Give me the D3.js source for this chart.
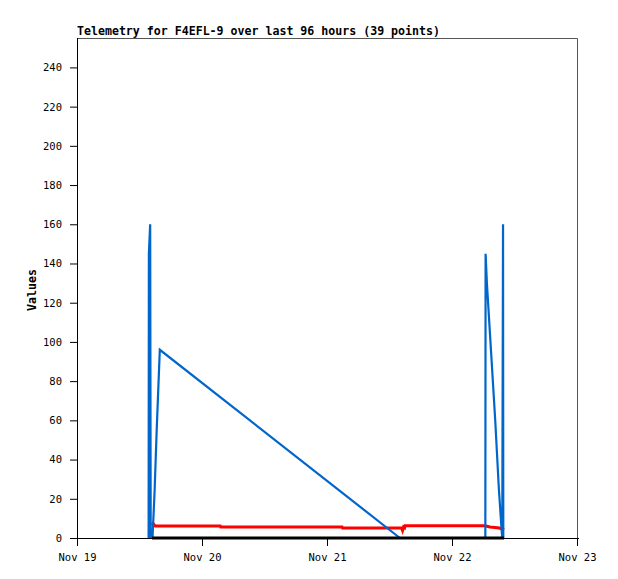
<!DOCTYPE html>
<html>
<head>
<meta charset="utf-8">
<script src="https://cdn.jsdelivr.net/npm/d3@7"></script>
<style>
  body { margin: 0; background: #fff; }
  svg text { font-family: "DejaVu Sans Mono", monospace; }
</style>
</head>
<body>
<div id="chart"></div>
<script>
// hours since Nov 19 00:00 -> value
const titleText = "Telemetry for F4EFL-9 over last 96 hours (39 points)"
const yTicks = [0, 20, 40, 60, 80, 100, 120, 140, 160, 180, 200, 220, 240]

const blueHours = [13.75, 13.8, 14.05, 14.15, 14.5, 14.9, 15.3, 15.9, 62.0, 78.4, 78.45, 78.7, 79.5, 80.3, 81.0, 81.5, 81.65, 81.8, 81.85]
const blueValues = [0, 145, 160, 0, 0, 24, 55, 96, 0, 0, 145, 130, 95, 60, 25, 5, 0, 160, 0]

const redHours = [14.4, 14.6, 15.0, 27.5, 27.6, 50.9, 51.0, 62.3, 62.5, 62.7, 62.9, 63.0, 78.3, 79.3, 81.1, 82.0]
const redValues = [6.6, 7.4, 6.1, 6.1, 5.6, 5.6, 5.1, 5.1, 3.8, 5.6, 5.2, 6.2, 6.2, 5.6, 5.1, 4.2]

const blackHours = [14.4, 82.0]
const blackValues = [0, 0]

const start = new Date(2023, 10, 19)
const toDate = h => new Date(start.getTime() + h * 3600 * 1000)
const zip = (hs, vs) => hs.map((h, i) => [toDate(h), vs[i]])

var margin = {top: 38, right: 41, bottom: 41, left: 77},
    width = 618 - margin.left - margin.right,
    height = 579 - margin.top - margin.bottom;

let svg = d3.select("#chart").append("svg")
    .attr("width", 618)
    .attr("height", 579)
  .append("g")
    .attr("transform", "translate(" + margin.left + "," + margin.top + ")");

let xScale = d3.scaleTime()
    .domain([start, toDate(96)])
    .range([0, width]);

let yScale = d3.scaleLinear()
    .domain([0, 255])
    .range([height, 0]);

// frame top/right
svg.append("path")
    .attr("d", "M0,0.5H" + (width + 0.5) + "V" + height)
    .attr("fill", "none")
    .attr("stroke", "#555")
    .attr("stroke-width", 1);

let line = d3.line()
    .x(d => xScale(d[0]))
    .y(d => yScale(d[1]));

svg.append("path")
    .datum(zip(redHours, redValues))
    .attr("fill", "none")
    .attr("stroke", "#ff0000")
    .attr("stroke-width", 3)
    .attr("d", line);

svg.append("path")
    .datum(zip(blueHours, blueValues))
    .attr("fill", "none")
    .attr("stroke", "#0066cc")
    .attr("stroke-width", 2.2)
    .attr("d", line);

svg.append("path")
    .datum(zip(blackHours, blackValues))
    .attr("fill", "none")
    .attr("stroke", "#000")
    .attr("stroke-width", 3)
    .attr("d", line);

// axes
let xAxis = svg.append("g")
    .attr("transform", "translate(0," + height + ")")
    .call(d3.axisBottom(xScale)
        .ticks(d3.timeDay.every(1))
        .tickFormat(d3.timeFormat("%b %d"))
        .tickSize(8)
        .tickPadding(8)
        .tickSizeOuter(0));

let yAxis = svg.append("g")
    .call(d3.axisLeft(yScale)
        .tickValues(yTicks)
        .tickSize(7)
        .tickPadding(8)
        .tickSizeOuter(0));

[xAxis, yAxis].forEach(a => {
    a.select(".domain").attr("stroke", "#000").attr("stroke-width", 1);
    a.selectAll(".tick line").attr("stroke", "#000");
    a.selectAll("text")
        .attr("fill", "#000")
        .style("font-size", "10.5px")
        .style("font-family", "'DejaVu Sans Mono', monospace");
});
yAxis.select(".domain").attr("d", "M0.5," + height + "V0");
xAxis.select(".domain").attr("d", "M-7,0.5H" + (width + 2));

// Labels
svg.append("text")
    .attr("x", 0)
    .attr("y", -3)
    .style("font-size", "11.6px")
    .style("font-weight", "bold")
    .text(titleText);

svg.append("text")
    .attr("text-anchor", "middle")
    .attr("transform", "rotate(-90)")
    .attr("x", -(252))
    .attr("y", -41)
    .style("font-size", "11.6px")
    .style("font-weight", "bold")
    .text("Values");
</script>
</body>
</html>
